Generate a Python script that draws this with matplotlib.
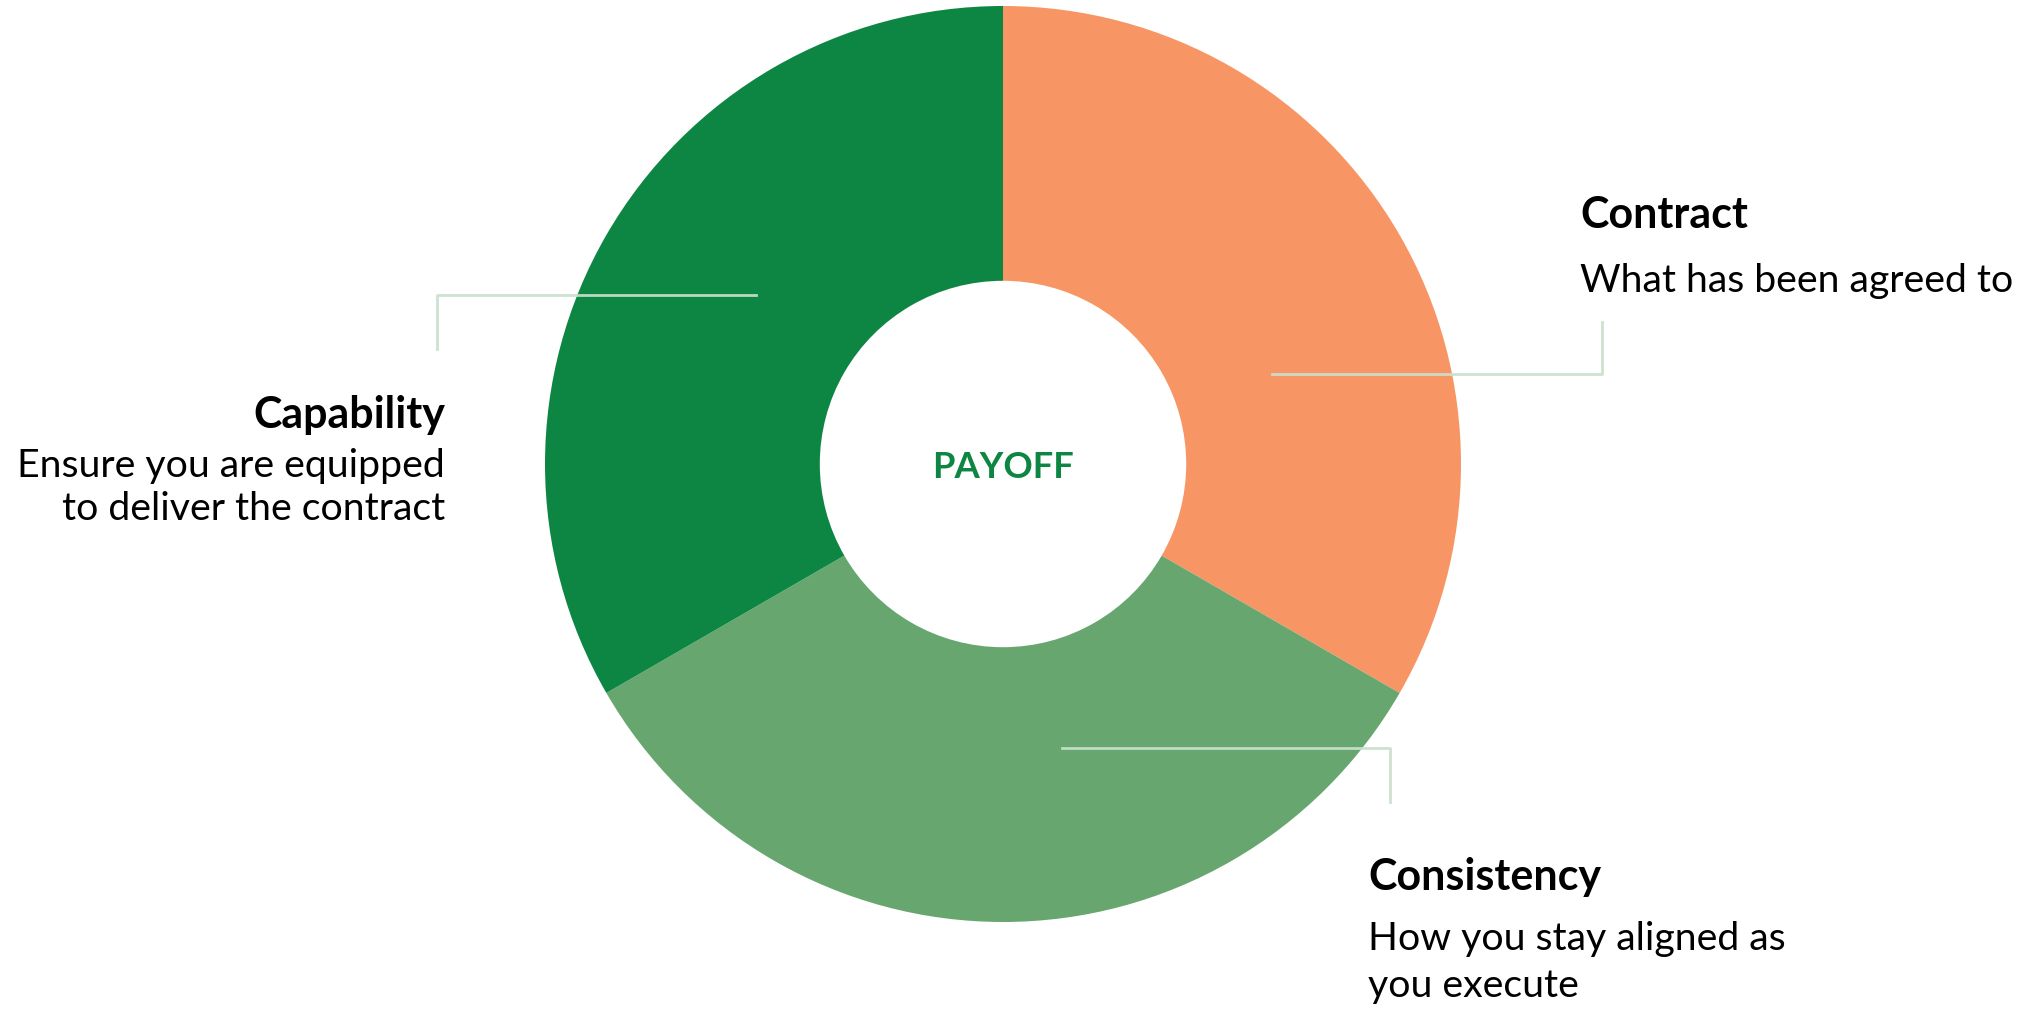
import matplotlib
matplotlib.use("Agg")
import matplotlib.pyplot as plt

# chart data
segments = ["Contract", "Consistency", "Capability"]
shares = [1, 1, 1]
colors = ["#F79664", "#68A66F", "#0E8643"]
titles = ["Contract", "Consistency", "Capability"]
notes = [["What has been agreed to"],
         ["How you stay aligned as", "you execute"],
         ["Ensure you are equipped", "to deliver the contract"]]
centre_label = "PAYOFF"

W, H = 2035, 1016
plt.rcParams['font.family'] = ['Lato', 'DejaVu Sans']

fig = plt.figure(figsize=(W / 100, H / 100), dpi=100)
ax = fig.add_axes([0, 0, 1, 1])

def Y(py):
    # pixel row -> data y
    return H - py

cx, cy, R = 1003, 464, 458
ax.pie(shares, colors=colors, startangle=90, counterclock=False,
       radius=R, center=(cx, Y(cy)),
       wedgeprops=dict(width=R * 0.6, linewidth=0))

ax.set_xlim(0, W)
ax.set_ylim(0, H)
ax.set_aspect('equal')
ax.axis('off')

renderer = fig.canvas.get_renderer()

def fit(txt, target):
    # scale the font so the text is as wide as in the reference
    w = txt.get_window_extent(renderer).width
    txt.set_fontsize(txt.get_fontsize() * target / w)

mid = ax.text(cx, Y(468), centre_label, ha='center', va='center',
              fontsize=29, fontweight='bold', color='#0E8643')
fit(mid, 142)

line_c = '#C9E0CC'
# leader lines
ax.plot([1272, 1602, 1602], [Y(374), Y(374), Y(322)], color=line_c, lw=2, alpha=0.92)
ax.plot([1062, 1390, 1390], [Y(748), Y(748), Y(802)], color=line_c, lw=2, alpha=0.92)
ax.plot([756, 437, 437], [Y(295), Y(295), Y(349)], color=line_c, lw=2, alpha=0.92)

# labels: (x, ha, title baseline, title width, note baselines, first note width)
spots = [(1580, 'left', 228, 165, [292], 445),
         (1368, 'left', 890, 232, [950, 997], 410),
         (445, 'right', 428, 197, [477, 520], 428)]
head_sizes, note_sizes = [], []
objs = []
for t, lines, (x, ha, tb, tw, nb, nw) in zip(titles, notes, spots):
    ht = ax.text(x, Y(tb), t, ha=ha, va='baseline', fontsize=32,
                 fontweight='bold', color='black')
    fit(ht, tw)
    head_sizes.append(ht.get_fontsize())
    nts = []
    for s, b in zip(lines, nb):
        nts.append(ax.text(x, Y(b), s, ha=ha, va='baseline', fontsize=32,
                           color='black'))
    fit(nts[0], nw)
    note_sizes.append(nts[0].get_fontsize())
    objs.append((ht, nts))

hs = sum(head_sizes) / len(head_sizes)
ns = sum(note_sizes) / len(note_sizes)
for ht, nts in objs:
    ht.set_fontsize(hs)
    for n in nts:
        n.set_fontsize(ns)

fig.savefig('out.png', dpi=100, facecolor='white')
